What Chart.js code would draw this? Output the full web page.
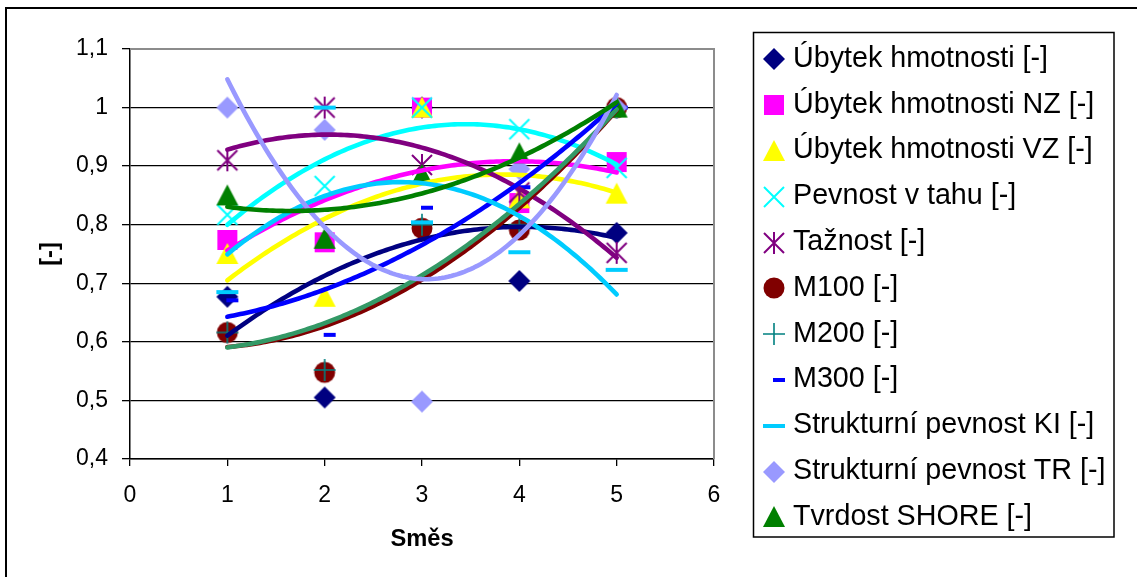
<!DOCTYPE html>
<html>
<head>
<meta charset="utf-8">
<script src="https://cdn.jsdelivr.net/npm/chart.js@4.4.1/dist/chart.umd.min.js"></script>
<style>
  html, body { margin: 0; padding: 0; background: #fff; }
  canvas { display: block; }
</style>
</head>
<body>
<canvas id="chart" width="1137" height="577"></canvas>
<script>
// Mixture number (Směs) on the x axis
const smes = [1, 2, 3, 4, 5];
const xTickLabels = ['0', '1', '2', '3', '4', '5', '6'];
const yTickLabels = ['0,4', '0,5', '0,6', '0,7', '0,8', '0,9', '1', '1,1'];

// Relative property values for each mixture
const ubytekHmotnosti   = [0.677, 0.505, 1.000, 0.704, 0.786];
const ubytekHmotnostiNZ = [0.774, 0.770, 1.000, 0.837, 0.907];
const ubytekHmotnostiVZ = [0.750, 0.677, 1.000, 0.845, 0.853];
const pevnostVTahu      = [0.817, 0.866, 1.000, 0.963, 0.897];
const taznost           = [0.910, 1.000, 0.902, 0.855, 0.752];
const m100              = [0.616, 0.548, 0.794, 0.791, 1.000];
const m200              = [0.616, 0.552, 0.800, 0.800, 1.000];
const m300              = [0.671, 0.612, 0.829, 0.864, 1.000];
const strukturniKI      = [0.685, 1.000, 0.804, 0.753, 0.723];
const strukturniTR      = [1.000, 0.962, 0.498, 0.895, 1.000];
const tvrdostShore      = [0.850, 0.776, 0.885, 0.922, 1.000];

const seriesNames = [
  'Úbytek hmotnosti [-]', 'Úbytek hmotnosti NZ [-]', 'Úbytek hmotnosti VZ [-]',
  'Pevnost v tahu [-]', 'Tažnost [-]', 'M100 [-]', 'M200 [-]', 'M300 [-]',
  'Strukturní pevnost KI [-]', 'Strukturní pevnost TR [-]', 'Tvrdost SHORE [-]'
];
const seriesValues = [
  ubytekHmotnosti, ubytekHmotnostiNZ, ubytekHmotnostiVZ, pevnostVTahu, taznost,
  m100, m200, m300, strukturniKI, strukturniTR, tvrdostShore
];
const markerKinds  = ['diamond', 'square', 'triangle', 'x', 'star', 'circle', 'plus', 'shortDash', 'longDash', 'diamond', 'triangle'];
const markerColors = ['#000080', '#FF00FF', '#FFFF00', '#00FFFF', '#800080', '#800000', '#008080', '#0000FF', '#00CCFF', '#9999FF', '#008000'];
const trendColors  = ['#000080', '#FF00FF', '#FFFF00', '#00FFFF', '#800080', '#800000', '#339966', '#0000FF', '#00CCFF', '#9999FF', '#008000'];

const FONT = '"Liberation Sans", Arial, Helvetica, sans-serif';

// Small canvases used as point styles (plot and legend)
function markerCanvas(kind, color) {
  const s = 28, m = s / 2;
  const c = document.createElement('canvas');
  c.width = s; c.height = s;
  const g = c.getContext('2d');
  g.fillStyle = color;
  g.strokeStyle = color;
  g.beginPath();
  switch (kind) {
    case 'diamond':
      g.moveTo(m - 11, m); g.lineTo(m, m - 11); g.lineTo(m + 11, m); g.lineTo(m, m + 11);
      g.closePath(); g.fill(); break;
    case 'square':
      g.fillRect(m - 10, m - 10, 20, 20); break;
    case 'triangle':
      g.moveTo(m, m - 11); g.lineTo(m + 11, m + 10); g.lineTo(m - 11, m + 10);
      g.closePath(); g.fill(); break;
    case 'x':
      g.lineWidth = 2;
      g.moveTo(m - 10, m - 10); g.lineTo(m + 10, m + 10);
      g.moveTo(m + 10, m - 10); g.lineTo(m - 10, m + 10);
      g.stroke(); break;
    case 'star':
      g.lineWidth = 2;
      g.moveTo(m - 10, m - 10); g.lineTo(m + 10, m + 10);
      g.moveTo(m + 10, m - 10); g.lineTo(m - 10, m + 10);
      g.moveTo(m, m - 11); g.lineTo(m, m + 11);
      g.stroke(); break;
    case 'circle':
      g.arc(m, m, 10.5, 0, Math.PI * 2); g.fill(); break;
    case 'plus':
      g.lineWidth = 1.6;
      g.moveTo(m - 11, m); g.lineTo(m + 11, m);
      g.moveTo(m, m - 11); g.lineTo(m, m + 11);
      g.stroke(); break;
    case 'shortDash':
      g.fillRect(m - 1, m - 2, 12, 4); break;
    case 'longDash':
      g.fillRect(m - 11, m - 2, 22, 4); break;
  }
  return c;
}

// Least-squares quadratic trend (coefficients c0 + c1 x + c2 x^2)
function quadFit(xs, ys) {
  const S = [0, 0, 0, 0, 0], T = [0, 0, 0];
  xs.forEach((x, i) => {
    let p = 1;
    for (let k = 0; k < 5; k++) { S[k] += p; if (k < 3) T[k] += p * ys[i]; p *= x; }
  });
  const M = [[S[0], S[1], S[2], T[0]], [S[1], S[2], S[3], T[1]], [S[2], S[3], S[4], T[2]]];
  for (let i = 0; i < 3; i++) {
    for (let j = i + 1; j < 3; j++) {
      const f = M[j][i] / M[i][i];
      for (let k = i; k < 4; k++) M[j][k] -= f * M[i][k];
    }
  }
  const c = [0, 0, 0];
  for (let i = 2; i >= 0; i--) {
    let s = M[i][3];
    for (let k = i + 1; k < 3; k++) s -= M[i][k] * c[k];
    c[i] = s / M[i][i];
  }
  return c;
}

function trendPoints(xs, ys) {
  const c = quadFit(xs, ys);
  const x0 = Math.min(...xs), x1 = Math.max(...xs);
  const pts = [];
  const n = 120;
  for (let k = 0; k <= n; k++) {
    const x = x0 + (x1 - x0) * k / n;
    pts.push({ x, y: c[0] + c[1] * x + c[2] * x * x });
  }
  return pts;
}

const markers = markerKinds.map((k, i) => markerCanvas(k, markerColors[i]));

const datasets = [];
seriesValues.forEach((vals, i) => {
  datasets.push({
    label: seriesNames[i],
    data: smes.map((x, j) => ({ x, y: vals[j] })),
    pointStyle: markers[i],
    pointRadius: 10,
    pointHoverRadius: 10,
    showLine: false,
    order: 100 - i
  });
});
seriesValues.forEach((vals, i) => {
  datasets.push({
    label: seriesNames[i] + ' trend',
    data: trendPoints(smes, vals),
    showLine: true,
    pointRadius: 0,
    borderColor: trendColors[i],
    borderWidth: 4.6,
    borderCapStyle: 'round',
    borderJoinStyle: 'round',
    tension: 0,
    order: -i
  });
});

// Plot-area edges, outer frame and the legend box
const decorations = {
  id: 'decorations',
  afterDraw(chart) {
    const { ctx, chartArea: a } = chart;
    ctx.save();
    ctx.strokeStyle = '#8c8c8c';
    ctx.lineWidth = 2;
    ctx.beginPath();
    ctx.moveTo(a.left, a.top); ctx.lineTo(a.right, a.top); ctx.lineTo(a.right, a.bottom);
    ctx.stroke();

    ctx.strokeStyle = '#000';
    ctx.lineWidth = 2;
    ctx.beginPath();
    ctx.moveTo(6, 600); ctx.lineTo(6, 8); ctx.lineTo(1200, 8);
    ctx.stroke();

    ctx.lineWidth = 1.5;
    ctx.strokeRect(753.5, 32.5, 360.5, 504.5);

    ctx.font = '28.7px ' + FONT;
    ctx.fillStyle = '#000';
    ctx.textBaseline = 'alphabetic';
    ctx.textAlign = 'left';
    seriesNames.forEach((name, i) => {
      const cy = 59.3 + i * 45.8;
      ctx.drawImage(markers[i], Math.round(774 - 14), Math.round(cy - 14));
      ctx.fillText(name, 793, cy + 7.5);
    });
    ctx.restore();
  }
};

new Chart(document.getElementById('chart'), {
  type: 'scatter',
  data: { datasets },
  plugins: [decorations],
  options: {
    responsive: false,
    animation: false,
    devicePixelRatio: 1,
    layout: { padding: { left: 20, right: 423, top: 49, bottom: 0 } },
    plugins: { legend: { display: false }, tooltip: { enabled: false } },
    scales: {
      x: {
        type: 'linear',
        min: 0, max: 6,
        afterFit: s => { s.height = 118; },
        ticks: {
          stepSize: 1,
          padding: 16,
          color: '#000',
          font: { family: FONT, size: 23 },
          callback: v => xTickLabels[v]
        },
        grid: { drawOnChartArea: false, drawTicks: true, tickLength: 7, color: '#000', lineWidth: 1.3 },
        border: { display: true, color: '#000', width: 1.5 },
        title: {
          display: true, text: 'Směs', color: '#000',
          font: { family: FONT, size: 23.7, weight: 'bold' },
          padding: { top: 0, bottom: 23 }
        }
      },
      y: {
        type: 'linear',
        min: 0.4, max: 1.1,
        afterFit: s => { s.width = 110; },
        ticks: {
          stepSize: 0.1,
          padding: 14,
          color: '#000',
          font: { family: FONT, size: 23 },
          callback: v => yTickLabels[Math.round((v - 0.4) * 10)]
        },
        grid: {
          tickLength: 8,
          lineWidth: 1.3,
          color: c => (c.tick && Math.abs(c.tick.value - 1.1) < 1e-6) ? 'rgba(0,0,0,0)' : '#000',
          tickColor: '#000'
        },
        border: { display: true, color: '#000', width: 1.5 },
        title: {
          display: true, text: '[-]', color: '#000',
          font: { family: FONT, size: 23.7, weight: 'bold' },
          padding: { top: 16, bottom: 0 }
        }
      }
    }
  }
});
</script>
</body>
</html>
